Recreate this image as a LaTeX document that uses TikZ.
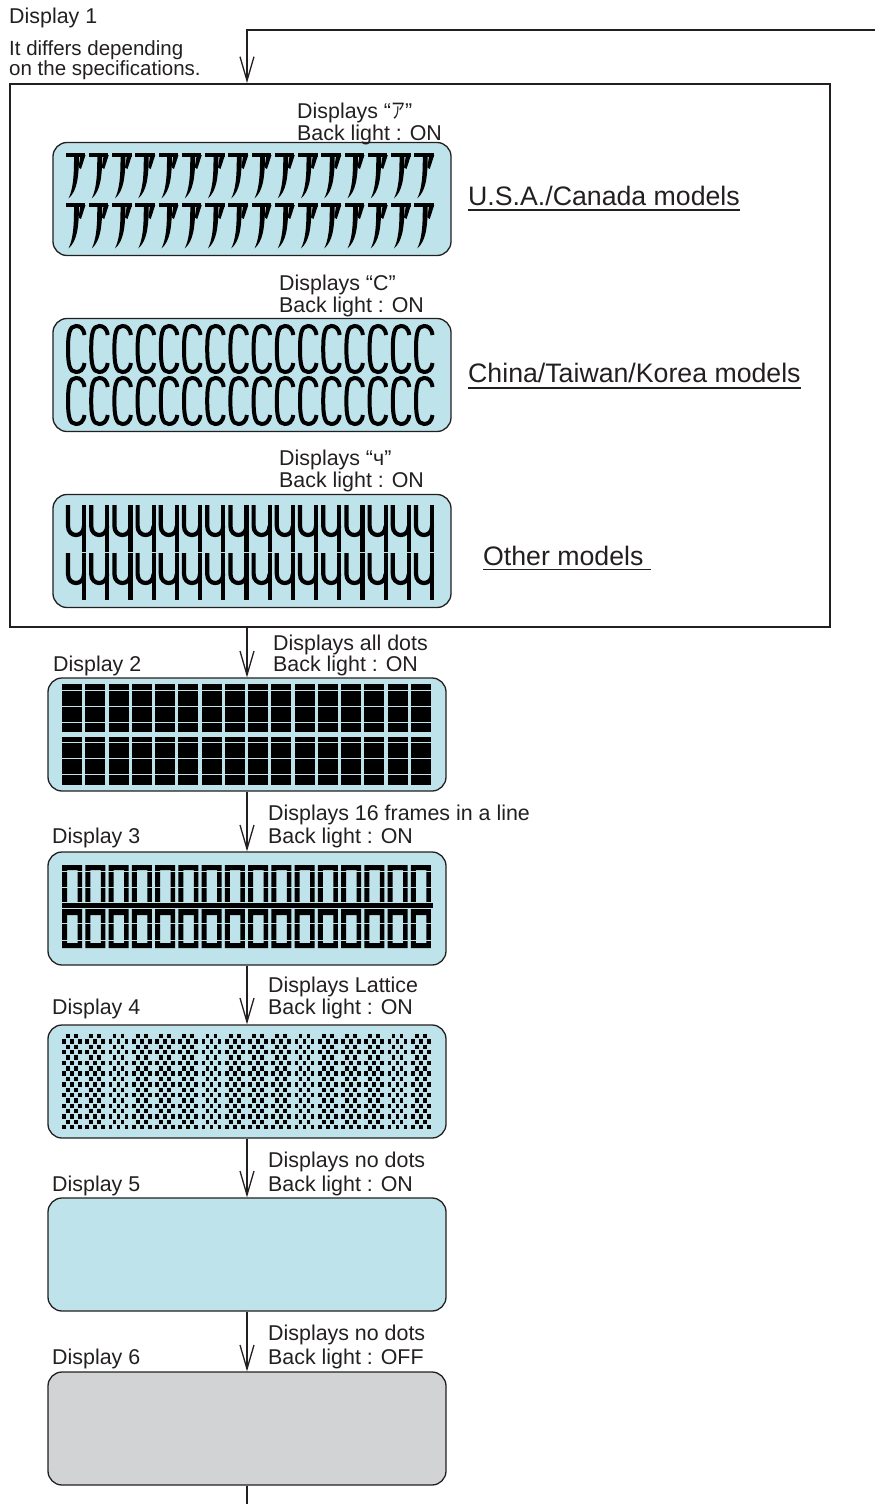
\documentclass[tikz,border=0pt]{standalone}
\usepackage{graphicx}
\usepackage{fontspec}
\setmainfont{Liberation Sans}
\newfontfamily\jpfont{Noto Sans CJK JP}
\usetikzlibrary{arrows.meta,positioning}
\definecolor{lcdblue}{HTML}{BEE3EA}
\definecolor{lcdgray}{HTML}{D1D3D4}
\definecolor{ink}{HTML}{231F20}
\tikzset{
  lcd/.style={draw=ink,line width=1.3pt,rounded corners=14pt,fill=lcdblue,
    minimum width=398pt,minimum height=113pt,inner sep=0pt},
  lcdoff/.style={lcd,fill=lcdgray},
  arr/.style={draw=ink,line width=1.3pt,-{Straight Barb[length=24pt,width=14pt]}},
  txt/.style={inner sep=0pt,anchor=base west,text=ink,font=\fontsize{21.4}{24}\selectfont},
  lbl/.style={txt,font=\fontsize{26.7}{30}\selectfont},
  ul/.style={draw=ink,line width=1.8pt},
  sep/.style={draw=lcdblue,line width=1pt},
}
\begin{document}
\begin{tikzpicture}[x=1pt,y=-1pt]
  \useasboundingbox (0,0) rectangle (875,1504);
  % display 1
  \node[txt] (n1) at (9,24) {Display 1};
  \node[txt,font=\fontsize{20.5}{22}\selectfont] (spec1) at (9,55.5) {It differs depending};
  \node[txt,font=\fontsize{20.5}{22}\selectfont] (spec2) at (9,75.5) {on the specifications.};
  \node[draw=ink,line width=1.8pt,minimum width=820pt,minimum height=543pt,
    anchor=north west,inner sep=0pt] (disp1) at (9,83) {};
  \node[lcd] (pa) at (252,199) {};
  \node[lcd] (pb) at (252,375) {};
  \node[lcd] (pc) at (252,551) {};
  \node[txt] (qa) at (297,118) {Displays “\scalebox{0.65}[1]{\jpfont ア}”};
  \node[txt] (ba) at (297,140) {Back light : ON};
  \node[txt] (qb) at (279,290) {Displays “C”};
  \node[txt] (bb) at (279,312) {Back light : ON};
  \node[txt] (qc) at (279,465) {Displays “ч”};
  \node[txt] (bc) at (279,487) {Back light : ON};
  \node[lbl] (usa) at (468,205) {U.S.A./Canada models};
  \node[lbl] (ctk) at (468,382) {China/Taiwan/Korea models};
  \node[lbl] (oth) at (483,565) {Other models};
  \draw[ul] ([yshift=-5pt]usa.base west) -- ([yshift=-5pt]usa.base east);
  \draw[ul] ([yshift=-6pt]ctk.base west) -- ([yshift=-6pt]ctk.base east);
  \draw[ul] ([yshift=-4.5pt]oth.base west) -- ([shift={(7pt,-4.5pt)}]oth.base east);
  % glyphs of display 1
  \foreach \i in {0,...,15} \foreach \r in {152,202} {
    \begin{scope}[shift={(65+23.25*\i,\r)}]
      \fill[black] (0.5,0.5) rectangle (20,5);
      \fill[black] (15.5,3) -- (20.5,3) -- (16,17) -- (13.5,15.5) -- cycle;
      \fill[black] (9,4) -- (14,4) .. controls (13.8,26) and (12,39) .. (3.5,46.5)
        .. controls (7.5,38) and (9.2,27) .. (9,4);
    \end{scope}}
  \foreach \i in {0,...,15} \foreach \r in {326,378} {
    \begin{scope}[shift={(66+23.2*\i,\r)}]
      \draw[black,line width=4pt] (18.5,9) .. controls (17.5,2) and (14,0) .. (10,0)
        .. controls (3.5,0) and (2,8) .. (2,23) .. controls (2,38) and (3.5,46) .. (10,46)
        .. controls (14,46) and (17.5,44) .. (18.5,37);
    \end{scope}}
  \foreach \i in {0,...,15} \foreach \r in {505,553} {
    \begin{scope}[shift={(66+23.2*\i,\r)}]
      \draw[black,line width=4.2pt] (2,0) -- (2,21) .. controls (2,33) and (18,33) .. (18,21);
      \draw[black,line width=4.2pt] (18,0) -- (18,47);
    \end{scope}}
  % displays 2 to 6
  \node[lcd] (d2) at (247,734.5) {};
  \node[lcd] (d3) at (247,908.5) {};
  \node[lcd] (d4) at (247,1081.5) {};
  \node[lcd] (d5) at (247,1254.5) {};
  \node[lcdoff] (d6) at (247,1428.5) {};
  \node[txt] (n2) at (53,671) {Display 2};
  \node[txt] (t2a) at (273,650) {Displays all dots};
  \node[txt] (t2b) at (273,671) {Back light : ON};
  \node[txt] (n3) at (52,843.5) {Display 3};
  \node[txt] (t3a) at (268,820.5) {Displays 16 frames in a line};
  \node[txt] (t3b) at (268,843.5) {Back light : ON};
  \node[txt] (n4) at (52,1014) {Display 4};
  \node[txt] (t4a) at (268,992) {Displays Lattice};
  \node[txt] (t4b) at (268,1014) {Back light : ON};
  \node[txt] (n5) at (52,1191) {Display 5};
  \node[txt] (t5a) at (268,1167) {Displays no dots};
  \node[txt] (t5b) at (268,1191) {Back light : ON};
  \node[txt] (n6) at (52,1364) {Display 6};
  \node[txt] (t6a) at (268,1340) {Displays no dots};
  \node[txt] (t6b) at (268,1364) {Back light : OFF};
  % all dots
  \foreach \i in {0,...,15} \foreach \r in {684,737}
    \fill[black] (62+23.25*\i,\r) rectangle ++(20,48);
  \foreach \y in {690,706,722,742,758,774} \draw[sep] (60,\y) -- (436,\y);
  % frames
  \foreach \i in {0,...,15} {
    \fill[black,even odd rule] (62+23.25*\i,865) rectangle ++(20,43)
      (67+23.25*\i,870) rectangle ++(10.5,33);
    \fill[black,even odd rule] (62+23.25*\i,909) rectangle ++(20,39)
      (67+23.25*\i,915) rectangle ++(10.5,28);}
  \fill[black] (62,903) rectangle (433,908);
  \foreach \y in {871,887,902,908.5,923,940} \draw[sep] (60,\y) -- (436,\y);
  % lattice
  \foreach \i in {0,...,15} \foreach \r in {0,2,...,16} {
    \foreach \c in {1,3} \fill[black] (62+23.25*\i+4*\c,1034+5.35*\r) rectangle ++(3.9,4.4);
    \foreach \c in {0,2,4} \fill[black] (62+23.25*\i+4*\c,1039.35+5.35*\r) rectangle ++(3.9,4.4);}
  % connectors
  \coordinate (inp) at (875,30);
  \coordinate (outp) at (247,1504);
  \draw[arr] (inp) -- (inp -| d2.north) -- (d2.north |- disp1.north);
  \draw[arr] (d2.north |- disp1.south) -- (d2);
  \foreach \a/\b in {d2/d3,d3/d4,d4/d5,d5/d6} \draw[arr] (\a) -- (\b);
  \draw[ink,line width=1.3pt] (d6) -- (outp);
\end{tikzpicture}
\end{document}
